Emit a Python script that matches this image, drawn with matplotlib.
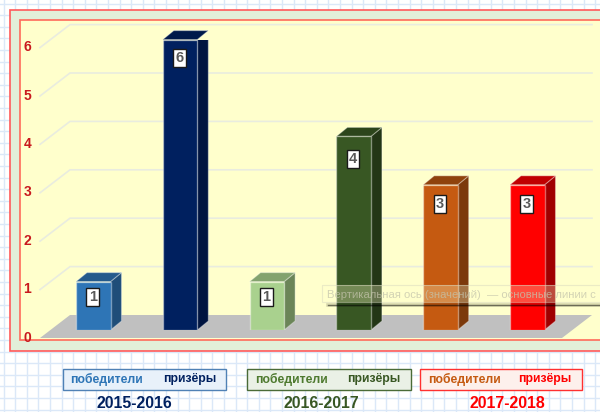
import numpy as np
import matplotlib
matplotlib.use("Agg")
import matplotlib.pyplot as plt
from matplotlib.patches import Rectangle, Polygon

plt.rcParams['font.family'] = ['Liberation Sans', 'DejaVu Sans']

seasons = ['2015-2016', '2016-2017', '2017-2018']
legend_left = ['победители'] * 3
legend_right = ['призёры'] * 3
values = [1, 6, 1, 4, 3, 3]
front_colors = ['#2e75b6', '#00205f', '#a9d18e', '#385723', '#c55a11', '#ff0000']
top_colors = ['#245a8c', '#001a4a', '#83a36e', '#2c451b', '#8f420c', '#c00000']
side_colors = ['#1f4e79', '#001440', '#6b8558', '#233616', '#7c390b', '#a00000']
y_ticks = [0, 1, 2, 3, 4, 5, 6]

W, H = 600, 412
fig = plt.figure(figsize=(W / 100, H / 100), dpi=100)

# pixel-space decoration layer
bg = fig.add_axes([0, 0, 1, 1])
bg.set_xlim(0, W); bg.set_ylim(H, 0); bg.axis('off')
bg.add_patch(Rectangle((0, 0), W, H, fc='white', ec='none', zorder=0))
for x in np.arange(3.5, W, 11.6):
    bg.axvline(x, color='#dbe8f8', lw=1.0, zorder=1)
for y in np.arange(3.5, H, 11.6):
    bg.axhline(y, color='#dbe8f8', lw=1.0, zorder=1)
bg.add_patch(Rectangle((10, 10), 600, 340.5, fc='#e2efd9', ec='#ff5a5a', lw=1.2, zorder=2))
bg.add_patch(Rectangle((20, 19.5), 600, 320.5, fc='#ffffcc', ec='#ff6a5a', lw=1.2, zorder=3))

# value axes: value 0 at y=330 px, value 6 at y=39.6 px
x0 = 76.0; step = 86.8; bw = 34.5
ax_left, ax_right = 40, 600
ax = fig.add_axes([ax_left / W, 1 - 330 / H, (ax_right - ax_left) / W, (330 - 39.6) / H])
ax.patch.set_alpha(0)
ax.set_zorder(5)
ax.set_xlim(ax_left, ax_right)
ax.set_ylim(0, 6)
for s in ax.spines.values():
    s.set_visible(False)
ax.set_xticks([])
ax.set_yticks([])
u = 290.4 / 6
dx, dy = 11.0, 9.0 / u
gx, gy = 30.0, 23.0 / u
shift = 8.0 / u   # front grid edge sits below bar base
label_drop = [15, 18.5, 15, 23, 19.5, 19.5]  # px below bar top, per bar

# floor
ax.add_patch(Polygon([(40, -shift), (70, -shift + gy), (592, -shift + gy), (562, -shift)],
                     fc='#c0c0c0', ec='none', zorder=1, clip_on=False))
# grid
for v in y_ticks[1:]:
    b = v - shift
    ax.plot([40, 70, 592], [b, b + gy, b + gy], color='#e9ecdf', lw=1.2, zorder=0.5,
            clip_on=False, solid_joinstyle='miter')

for v in y_ticks:
    ax.text(27.5, v - 7.6 / u, str(v), color='#c8191e', fontsize=10, fontweight='bold',
            ha='center', va='center', clip_on=False)

for i, v in enumerate(values):
    xl = x0 + i * step
    ax.bar(xl, v, width=bw, align='edge', color=front_colors[i], edgecolor='#ffffff60',
           linewidth=1.0, zorder=3)
    ax.add_patch(Polygon([(xl + bw, 0), (xl + bw + dx, dy), (xl + bw + dx, v + dy), (xl + bw, v)],
                         fc=side_colors[i], ec='#ffffff50', lw=0.8, zorder=2.9))
    ax.add_patch(Polygon([(xl, v), (xl + dx, v + dy), (xl + bw + dx, v + dy), (xl + bw, v)],
                         fc=top_colors[i], ec='#ffffff50', lw=0.8, zorder=2.9, clip_on=False))
    cx = xl + bw / 2 - 0.5
    cy = v - label_drop[i] / u
    ax.add_patch(Rectangle((cx - 6.3, cy - 9 / u), 12.6, 18 / u, fc='white', ec='#1a1a1a', lw=1.0, zorder=4))
    ax.text(cx, cy, str(v), color='#595959', fontsize=10.5, fontweight='bold',
            ha='center', va='center', zorder=5)

# tooltip overlay
top = fig.add_axes([0, 0, 1, 1])
top.set_xlim(0, W); top.set_ylim(H, 0); top.axis('off'); top.set_zorder(6); top.patch.set_alpha(0)
top.add_patch(Rectangle((322, 285), 300, 17, fc='#ffffcc', alpha=0.3, ec='none'))
top.add_patch(Rectangle((322, 285), 300, 17, fc='none', alpha=0.5, ec='#d8d8c0', lw=0.8))
top.plot([328, 600], [305, 305], color='#000000', alpha=0.15, lw=2.6)
top.plot([328, 600], [304.6, 304.6], color='#000000', alpha=0.5, lw=1.0)
top.text(327, 294.5, 'Вертикальная ось (значений)  — основные линии с', fontsize=8.1,
         color='#c4c4ac', alpha=0.75, va='center', ha='left')

# season legends
boxes = [(62.5, 226), (247, 410.5), (420, 581.5)]
title_x = [134.5, 321.5, 507.5]
fc = ['#e8f1fa', '#eaf1e6', '#fdf0ec']
ec = ['#4f81b5', '#4a6b37', '#ff3030']
lc = ['#2e75b6', '#4e7a2f', '#c55a11']
rc = ['#00205f', '#385723', '#ff0000']
tc = ['#00205f', '#385723', '#ff0000']
for i in range(3):
    a, b = boxes[i]
    top.add_patch(Rectangle((a, 368.5), b - a, 21.5, fc=fc[i], ec=ec[i], lw=1.0))
    top.text(a + 8, 379, legend_left[i], color=lc[i], fontsize=8.8, fontweight='bold', va='center')
    top.text(b - 10, 379, legend_right[i], color=rc[i], fontsize=8.8, fontweight='bold', va='center', ha='right')
    top.text(title_x[i], 403, seasons[i], color=tc[i], fontsize=11.4, fontweight='bold', va='center', ha='center')

fig.savefig('out.png', dpi=100)
